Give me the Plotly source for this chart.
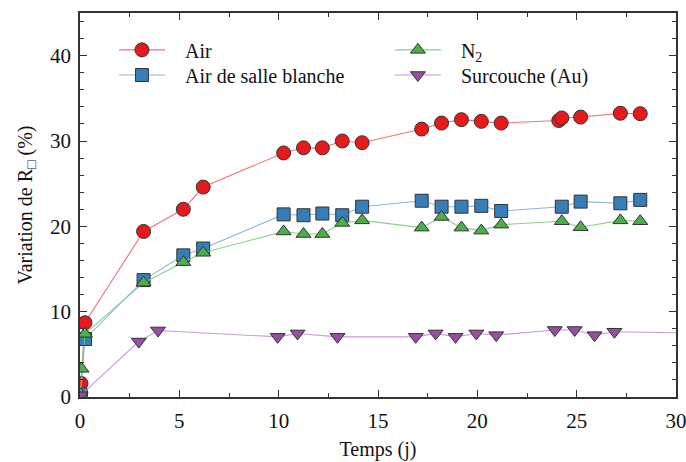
import plotly.graph_objects as go

# Data
air_x = [0.03, 0.05, 0.25, 3.2, 5.2, 6.2, 10.25, 11.25, 12.2, 13.2, 14.2, 17.2, 18.2, 19.2, 20.2, 21.2, 24.1, 24.25, 25.2, 27.2, 28.2]
air_y = [0.4, 1.6, 8.7, 19.4, 22.0, 24.6, 28.6, 29.2, 29.2, 30.0, 29.8, 31.4, 32.1, 32.5, 32.3, 32.1, 32.4, 32.7, 32.8, 33.25, 33.2]

salle_x = [0.03, 0.25, 3.2, 5.2, 6.2, 10.25, 11.25, 12.2, 13.2, 14.2, 17.2, 18.2, 19.2, 20.2, 21.2, 24.25, 25.2, 27.2, 28.2]
salle_y = [0.3, 6.8, 13.7, 16.6, 17.4, 21.4, 21.3, 21.5, 21.3, 22.3, 23.0, 22.3, 22.3, 22.4, 21.8, 22.3, 22.9, 22.7, 23.1]

n2_x = [0.03, 0.08, 0.25, 3.2, 5.2, 6.2, 10.25, 11.25, 12.2, 13.2, 14.2, 17.2, 18.2, 19.2, 20.2, 21.2, 24.25, 25.2, 27.2, 28.2]
n2_y = [0.3, 3.3, 7.4, 13.4, 15.8, 16.9, 19.4, 19.1, 19.1, 20.4, 20.7, 19.85, 21.1, 19.85, 19.5, 20.2, 20.6, 19.9, 20.7, 20.6]

au_x = [0.03, 2.96, 3.93, 9.95, 10.95, 12.96, 16.9, 17.9, 18.9, 19.95, 20.95, 23.9, 24.9, 25.9, 26.9, 31.0]
au_y = [0.2, 6.5, 7.8, 7.05, 7.45, 7.05, 7.05, 7.45, 7.05, 7.45, 7.25, 7.85, 7.85, 7.25, 7.65, 7.5]

x_ticks = [0, 5, 10, 15, 20, 25, 30]
y_ticks = [0, 10, 20, 30, 40]

FONT = "Liberation Serif, Times New Roman, serif"
OUTLINE = dict(color="#333333", width=1)
PAD = "\u00a0" * 3

fig = go.Figure()
fig.add_trace(go.Scatter(
    x=air_x, y=air_y, name=PAD + "Air", mode="lines+markers", legend="legend",
    line=dict(color="rgba(240,90,95,0.85)", width=1.1),
    marker=dict(symbol="circle", size=14, color="#e41a1c", line=OUTLINE)))
fig.add_trace(go.Scatter(
    x=salle_x, y=salle_y, name=PAD + "Air de salle blanche", mode="lines+markers", legend="legend2",
    line=dict(color="rgba(120,170,215,0.85)", width=1.1),
    marker=dict(symbol="square", size=13, color="#377eb8", line=OUTLINE)))
fig.add_trace(go.Scatter(
    x=n2_x, y=n2_y, name=PAD + "N<sub>2</sub>", mode="lines+markers", legend="legend3",
    line=dict(color="rgba(120,200,120,0.85)", width=1.1),
    marker=dict(symbol="triangle-up", size=13, color="#4daf4a", line=OUTLINE)))
fig.add_trace(go.Scatter(
    x=au_x, y=au_y, name=PAD + "Surcouche (Au)", mode="lines+markers", legend="legend4",
    line=dict(color="rgba(190,140,210,0.85)", width=1.1),
    marker=dict(symbol="triangle-down", size=13, color="#984ea3", line=OUTLINE)))

axis_common = dict(
    showline=True, linecolor="#333333", linewidth=1.5, mirror="ticks",
    ticks="inside", ticklen=7, tickwidth=1, tickcolor="#333333",
    showgrid=False, zeroline=False, automargin=False,
    ticklabeloverflow="allow",
    tickfont=dict(family=FONT, size=21, color="#111111"),
)

fig.update_xaxes(
    range=[0, 30], tickvals=x_ticks, ticktext=[str(v) for v in x_ticks],
    minor=dict(ticks="inside", ticklen=4, dtick=2.5, tick0=0, tickcolor="#333333"),
    ticklabelstandoff=4,
    title=dict(text="Temps (j)", font=dict(family=FONT, size=20, color="#111111"), standoff=10),
    **axis_common)
fig.update_yaxes(
    range=[0, 45], tickvals=y_ticks, ticktext=[str(v) for v in y_ticks],
    minor=dict(ticks="inside", ticklen=4, dtick=2, tick0=0, tickcolor="#333333"),
    ticklabelstandoff=3,
    title=dict(text="Variation de R<sub>□</sub> (%)", font=dict(family=FONT, size=20, color="#111111"), standoff=12),
    **axis_common)

legend_common = dict(
    font=dict(family=FONT, size=20, color="#111111"),
    bgcolor="rgba(0,0,0,0)", borderwidth=0, itemwidth=46,
    xanchor="left", yanchor="middle", tracegroupgap=0, itemsizing="trace",
)
fig.update_layout(
    width=686, height=462,
    margin=dict(l=80, r=10, t=13, b=65),
    paper_bgcolor="white", plot_bgcolor="white",
    legend=dict(x=0.057, y=0.904, **legend_common),
    legend2=dict(x=0.057, y=0.8385, **legend_common),
    legend3=dict(x=0.52, y=0.904, **legend_common),
    legend4=dict(x=0.52, y=0.8385, **legend_common),
    showlegend=True,
)

fig.write_html(
    "out.html",
    config={"displayModeBar": False},
    post_script="document.body.style.margin='0';document.body.style.overflow='hidden';",
)
